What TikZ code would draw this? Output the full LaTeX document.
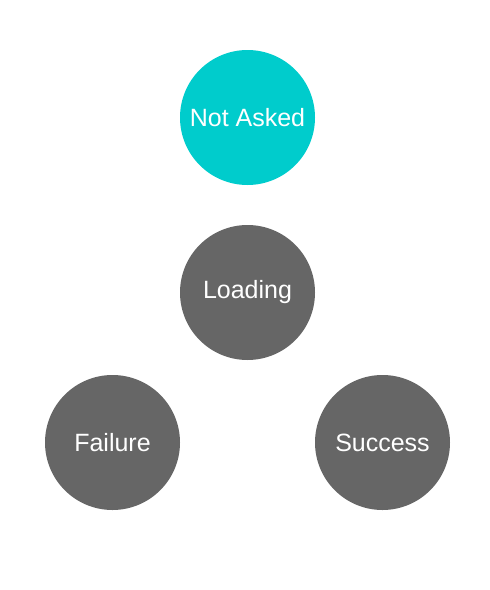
\documentclass[tikz,border=0pt]{standalone}
\usepackage{fontspec}
\setmainfont{Liberation Sans}
\usepackage{xcolor}
\usepackage{tikz}
\definecolor{askteal}{HTML}{00CCCC}
\definecolor{stategray}{HTML}{666666}
\tikzset{
  state/.style={circle,fill=stategray,text=white,minimum size=135pt,inner sep=0pt,font=\fontsize{25}{28}\selectfont},
  start/.style={state,fill=askteal}
}
\begin{document}
\begin{tikzpicture}[x=1pt,y=-1pt]
\useasboundingbox (0,0) rectangle (490,590);
\node[start] (notasked) at (247.5,117.5) {Not Asked};
\node[state] (loading) at (247.5,292.5) {Loading};
\node[state] (failure) at (112.5,442.5) {Failure};
\node[state] (success) at (382.5,442.5) {Success};
\end{tikzpicture}
\end{document}
